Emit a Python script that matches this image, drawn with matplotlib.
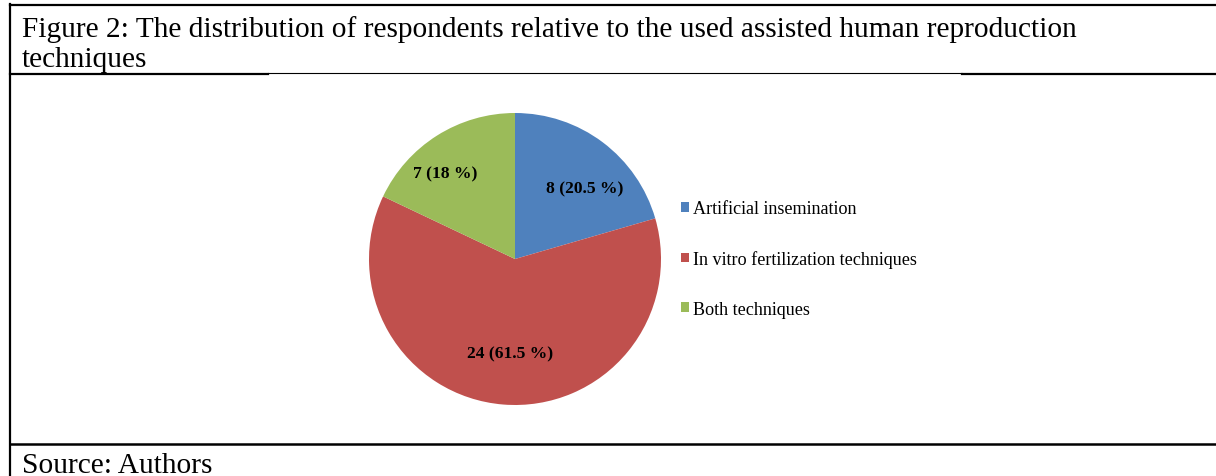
import numpy as np
import matplotlib.pyplot as plt
from matplotlib.lines import Line2D

# data
categories = ["Artificial insemination", "In vitro fertilization techniques", "Both techniques"]
counts = [8, 24, 7]
pct_labels = ["8 (20.5 %)", "24 (61.5 %)", "7 (18 %)"]
colors = ["#4F81BD", "#C0504D", "#9BBB59"]

W, H = 1216, 477
fig = plt.figure(figsize=(W / 100, H / 100), dpi=100)
plt.rcParams['font.family'] = ['Liberation Serif', 'DejaVu Serif']

def fx(x):
    return x / W

def fy(y):
    return 1 - y / H

# pie axes, centre (515, 260), radius 146 px
cx, cy, r = 515, 260, 146
ax = fig.add_axes([fx(cx - r), fy(cy + r), 2 * r / W, 2 * r / H])
wedges, texts = ax.pie(counts, colors=colors, startangle=90, counterclock=False,
                       radius=1, wedgeprops=dict(linewidth=0))

# data labels, placed roughly like excel's best fit
lab_dist = [0.69, 0.63, 0.77]
lab_shift = [-6.5, 1.5, 6.0]
for w, lab, d, s in zip(wedges, pct_labels, lab_dist, lab_shift):
    ang = np.deg2rad((w.theta1 + w.theta2) / 2 + s)
    ax.text(d * np.cos(ang), d * np.sin(ang) - 0.02, lab, ha='center', va='center',
            fontsize=12.6, fontweight='bold')
ax.set_xlim(-1, 1)
ax.set_ylim(-1, 1)
ax.set_aspect('equal')
ax.axis('off')

# legend
fig.legend(wedges, categories, loc='center left', bbox_to_anchor=(fx(672), fy(260)),
           frameon=False, fontsize=13.1, labelspacing=1.8, handlelength=0.45,
           handleheight=0.45, handletextpad=0.2, borderpad=0)

# caption text
fs = 21.2
fig.text(fx(22), fy(37), "Figure 2: The distribution of respondents relative to the used assisted human reproduction",
         fontsize=fs, va='baseline', ha='left')
fig.text(fx(22), fy(67), "techniques", fontsize=fs, va='baseline', ha='left')
fig.text(fx(22), fy(473), "Source: Authors", fontsize=fs, va='baseline', ha='left')

# frame lines (table borders)
def hline(y, x0, x1, lw):
    fig.add_artist(Line2D([fx(x0), fx(x1)], [fy(y), fy(y)], color='black', lw=lw))

def vline(x, y0, y1, lw):
    fig.add_artist(Line2D([fx(x), fx(x)], [fy(y0), fy(y1)], color='black', lw=lw))

hline(6, 10, W, 1.6)
hline(74.5, 10, 268, 1.6)
hline(74, 268, 962, 0.8)
hline(74.5, 962, W, 1.6)
hline(445, 10, W, 1.8)
vline(10, 5, H, 1.6)

fig.savefig('out.png', dpi=100)
